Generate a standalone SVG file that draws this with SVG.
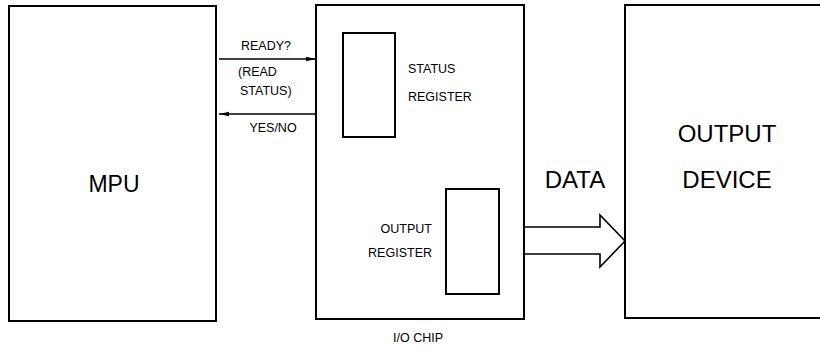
<svg xmlns="http://www.w3.org/2000/svg" width="820" height="349" viewBox="0 0 820 349">
<defs>
<style>
.box{fill:#fff;stroke:#000;stroke-width:2}
.reg{fill:#fff;stroke:#000;stroke-width:2}
.ln{fill:none;stroke:#000;stroke-width:1.6}
text{font-family:"Liberation Sans",Arial,sans-serif;fill:#000}
.s{font-size:12.5px}
.m{font-size:23px}
.l{font-size:24px}
</style>
<marker id="ah" viewBox="0 0 10 6" refX="10" refY="3" markerWidth="10" markerHeight="6" markerUnits="userSpaceOnUse" orient="auto">
<path d="M0,0.8 L10,3 L0,5.2 Z" fill="#000"/>
</marker>
</defs>
<rect width="820" height="349" fill="#fff"/>
<g id="mpu">
<rect class="box" x="9" y="6" width="207" height="315"/>
<text class="m" x="114" y="192" text-anchor="middle">MPU</text>
</g>
<g id="io-chip">
<rect class="box" x="316" y="5" width="208" height="314"/>
<text class="s" x="418" y="342" text-anchor="middle">I/O CHIP</text>
</g>
<g id="status-register">
<rect class="reg" x="343" y="33" width="52" height="104"/>
<text class="s" x="408" y="73">STATUS</text>
<text class="s" x="408" y="101">REGISTER</text>
</g>
<g id="output-register">
<rect class="reg" x="446" y="189" width="53" height="105"/>
<text class="s" x="432" y="233" text-anchor="end">OUTPUT</text>
<text class="s" x="432" y="257" text-anchor="end">REGISTER</text>
</g>
<g id="output-device">
<rect class="box" x="625" y="5" width="200" height="313"/>
<text class="l" x="727" y="142" text-anchor="middle">OUTPUT</text>
<text class="l" x="727" y="188" text-anchor="middle">DEVICE</text>
</g>
<g id="connectors">
<line class="ln" x1="219" y1="59" x2="316" y2="59" marker-end="url(#ah)"/>
<line class="ln" x1="316" y1="114" x2="219" y2="114" marker-end="url(#ah)"/>
<path class="ln" d="M524,227 H600 V215 L625,241 L600,267 V254 H524" stroke-width="2"/>
<text class="s" x="266" y="50" text-anchor="middle">READY?</text>
<text class="s" x="238" y="76">(READ</text>
<text class="s" x="240" y="95">STATUS)</text>
<text class="s" x="273" y="132" text-anchor="middle">YES/NO</text>
<text class="l" x="575" y="188" text-anchor="middle">DATA</text>
</g>
</svg>
